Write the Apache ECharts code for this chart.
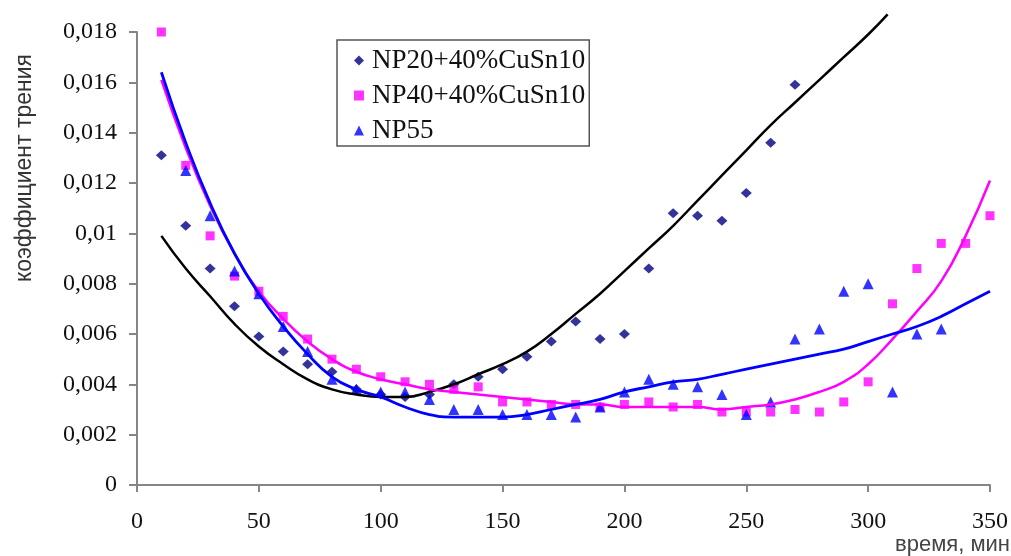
<!DOCTYPE html>
<html>
<head>
<meta charset="utf-8">
<script src="https://cdn.jsdelivr.net/npm/echarts@6/dist/echarts.min.js"></script>
<style>
  html, body { margin: 0; padding: 0; background: #fff; }
  #chart { width: 1011px; height: 556px; }
</style>
</head>
<body>
<div id="chart"></div>
<script>
// measured points (time, min)
var times = [10, 20, 30, 40, 50, 60, 70, 80, 90, 100, 110, 120, 130, 140, 150, 160, 170, 180,
             190, 200, 210, 220, 230, 240, 250, 260, 270, 280, 290, 300, 310, 320, 330, 340, 350];

var np20 = [0.0131, 0.0103, 0.0086, 0.0071, 0.0059, 0.0053, 0.0048, 0.0045, 0.0038, 0.0036,
            0.0035, 0.0036, 0.0040, 0.0043, 0.0046, 0.0051, 0.0057, 0.0065, 0.0058, 0.0060,
            0.0086, 0.0108, 0.0107, 0.0105, 0.0116, 0.0136, 0.0159];

var np40 = [0.0180, 0.0127, 0.0099, 0.0083, 0.0077, 0.0067, 0.0058, 0.0050, 0.0046, 0.0043,
            0.0041, 0.0040, 0.0038, 0.0039, 0.0033, 0.0033, 0.0032, 0.0032, 0.0031, 0.0032,
            0.0033, 0.0031, 0.0032, 0.0029, 0.0029, 0.0029, 0.0030, 0.0029, 0.0033, 0.0041,
            0.0072, 0.0086, 0.0096, 0.0096, 0.0107];

// NP55 starts at 20 min
var np55Times = [20, 30, 40, 50, 60, 70, 80, 90, 100, 110, 120, 130, 140, 150, 160, 170, 180,
                 190, 200, 210, 220, 230, 240, 250, 260, 270, 280, 290, 300, 310, 320, 330];
var np55 = [0.0125, 0.0107, 0.0085, 0.0076, 0.0063, 0.0053, 0.0042, 0.0038, 0.0037, 0.0037,
            0.0034, 0.0030, 0.0030, 0.0028, 0.0028, 0.0028, 0.0027, 0.0031, 0.0037, 0.0042,
            0.0040, 0.0039, 0.0036, 0.0028, 0.0033, 0.0058, 0.0062, 0.0077, 0.0080, 0.0037,
            0.0060, 0.0062];

// trend lines
var np20FitTimes = [10, 20, 30, 40, 50, 60, 70, 80, 90, 100, 110, 120, 130, 140, 150, 160, 170,
                    180, 190, 200, 210, 220, 230, 240, 250, 260, 270, 280, 290, 300, 308];
var np20Fit = [0.0099, 0.0086, 0.0075, 0.0064, 0.0055, 0.0048, 0.0042, 0.0038, 0.0036, 0.0035,
               0.0035, 0.0037, 0.0040, 0.0044, 0.0048, 0.0053, 0.0060, 0.0068, 0.0076, 0.0085,
               0.0094, 0.0103, 0.0113, 0.0123, 0.0133, 0.0143, 0.0152, 0.0161, 0.0170, 0.0179,
               0.0187];
var np40Fit = [0.0161, 0.0134, 0.0111, 0.0092, 0.0077, 0.0066, 0.0057, 0.0050, 0.0045, 0.0042,
               0.0040, 0.0038, 0.0037, 0.0036, 0.0035, 0.0034, 0.0033, 0.0032, 0.0032, 0.0031,
               0.0031, 0.0031, 0.0031, 0.0030, 0.0031, 0.0032, 0.0034, 0.0037, 0.0041, 0.0048,
               0.0058, 0.0069, 0.0081, 0.0099, 0.0121];
var np55Fit = [0.0164, 0.0136, 0.0112, 0.0092, 0.0076, 0.0063, 0.0052, 0.0043, 0.0038, 0.0035,
               0.0031, 0.0028, 0.0027, 0.0027, 0.0027, 0.0028, 0.0030, 0.0032, 0.0034, 0.0037,
               0.0039, 0.0041, 0.0042, 0.0044, 0.0046, 0.0048, 0.0050, 0.0052, 0.0054, 0.0057,
               0.0060, 0.0063, 0.0067, 0.0072, 0.0077];

function pairs(xs, ys) {
    var out = [];
    for (var i = 0; i < ys.length; i++) out.push([xs[i], ys[i]]);
    return out;
}

var serif = 'Liberation Serif, Times New Roman, serif';
var sans = 'Liberation Sans, Arial, sans-serif';

var chart = echarts.init(document.getElementById('chart'));
var option = {
    animation: false,
    grid: {
        left: 137,
        right: 21,
        top: 32,
        bottom: 71
    },
    legend: {
        orient: 'vertical',
        left: 337,
        top: 40,
        padding: [7, 4, 2, 17],
        itemGap: 8,
        itemWidth: 10,
        itemHeight: 10,
        borderColor: '#555',
        borderWidth: 1.5,
        data: ['NP20+40%CuSn10', 'NP40+40%CuSn10', 'NP55'],
        textStyle: {
            fontFamily: serif,
            fontSize: 27,
            lineHeight: 27,
            color: '#111',
            padding: [0, 0, 0, 3]
        }
    },
    xAxis: {
        type: 'value',
        min: 0,
        max: 350,
        interval: 50,
        axisLine: { lineStyle: { color: '#868686', width: 2 } },
        axisTick: { length: 7, lineStyle: { color: '#868686', width: 2 } },
        splitLine: { show: false },
        axisLabel: {
            margin: 25,
            fontFamily: serif,
            fontSize: 24,
            color: '#111'
        }
    },
    yAxis: {
        type: 'value',
        min: 0,
        max: 0.018,
        interval: 0.002,
        axisLine: { show: true, lineStyle: { color: '#868686', width: 2 } },
        axisTick: { show: true, length: 8, lineStyle: { color: '#868686', width: 2 } },
        splitLine: { show: false },
        axisLabel: {
            margin: 20,
            fontFamily: serif,
            fontSize: 24,
            color: '#111',
            formatter: function (v) {
                return String(+v.toFixed(3)).replace('.', ',');
            }
        }
    },
    graphic: [
        {
            type: 'text',
            x: 25,
            y: 168,
            rotation: Math.PI / 2,
            style: {
                text: 'коэффициент трения',
                fontFamily: sans,
                fontSize: 23,
                fill: '#333',
                align: 'center',
                verticalAlign: 'middle'
            }
        },
        {
            type: 'text',
            x: 1010,
            y: 545,
            style: {
                text: 'время, мин',
                fontFamily: sans,
                fontSize: 22,
                fill: '#444',
                align: 'right',
                verticalAlign: 'middle'
            }
        }
    ],
    series: [
        {
            name: 'тренд NP20',
            type: 'line',
            data: pairs(np20FitTimes, np20Fit),
            smooth: true,
            symbol: 'none',
            clip: false,
            lineStyle: { color: '#000', width: 2.5 }
        },
        {
            name: 'тренд NP40',
            type: 'line',
            data: pairs(times, np40Fit),
            smooth: true,
            symbol: 'none',
            lineStyle: { color: '#ff00ff', width: 2.5 }
        },
        {
            name: 'тренд NP55',
            type: 'line',
            data: pairs(times, np55Fit),
            smooth: true,
            symbol: 'none',
            lineStyle: { color: '#0000ff', width: 2.8 }
        },
        {
            name: 'NP20+40%CuSn10',
            type: 'scatter',
            symbol: 'diamond',
            symbolSize: [11, 10],
            data: pairs(times, np20),
            itemStyle: { color: '#000080' }
        },
        {
            name: 'NP40+40%CuSn10',
            type: 'scatter',
            symbol: 'rect',
            symbolSize: 9,
            data: pairs(times, np40),
            itemStyle: { color: '#ff00ff' }
        },
        {
            name: 'NP55',
            type: 'scatter',
            symbol: 'triangle',
            symbolSize: 11,
            data: pairs(np55Times, np55),
            itemStyle: { color: '#0000ff' }
        }
    ]
};
chart.setOption(option);
window.addEventListener('resize', function () {
    chart.resize();
});
</script>
</body>
</html>
